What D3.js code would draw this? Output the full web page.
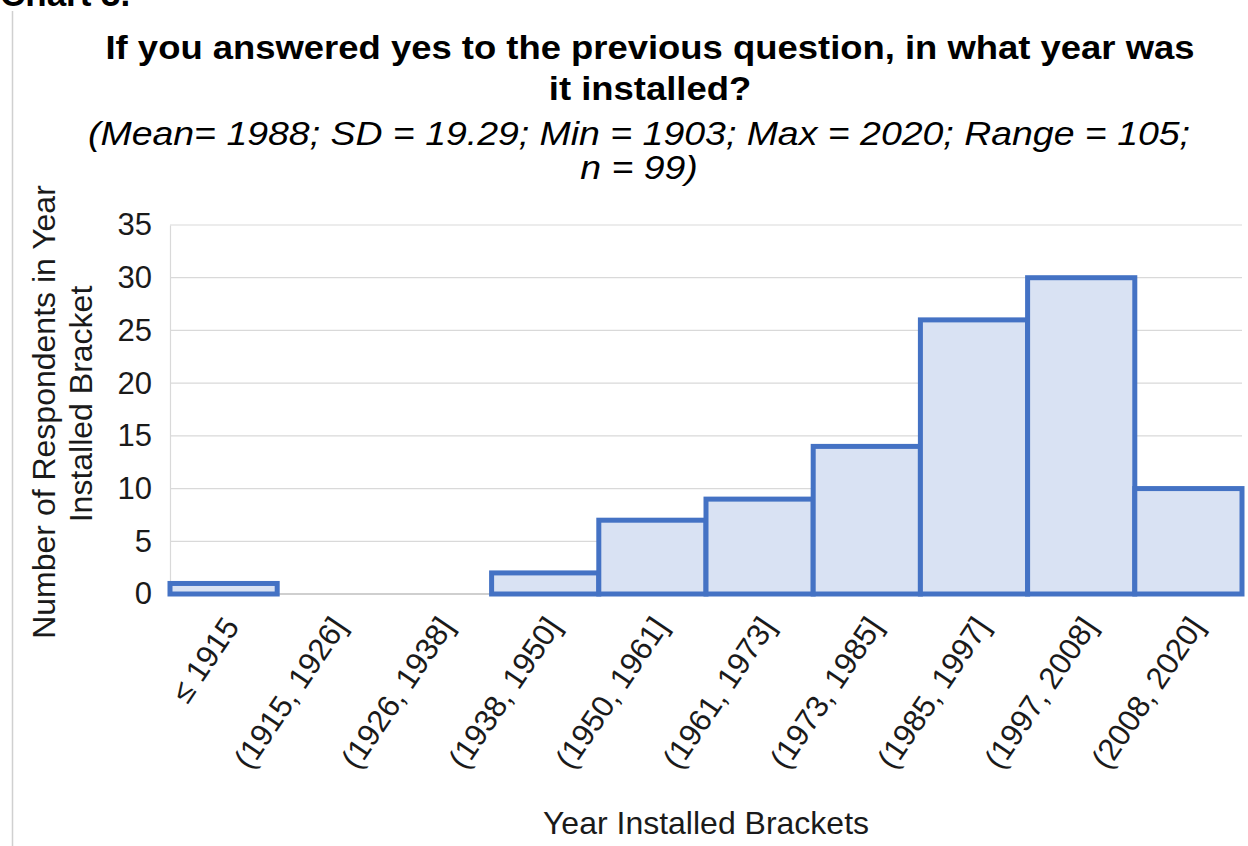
<!DOCTYPE html>
<html>
<head>
<meta charset="utf-8">
<script src="https://cdn.jsdelivr.net/npm/d3@7/dist/d3.min.js"></script>
<style>
  html, body { margin: 0; padding: 0; background: #fff; }
  svg { display: block; font-family: "Liberation Sans", Arial, sans-serif; }
</style>
</head>
<body>
<svg id="chart" width="1248" height="846"></svg>
<script>
// Year-installed brackets and respondent counts
const categories = ["≤ 1915", "(1915, 1926]", "(1926, 1938]", "(1938, 1950]", "(1950, 1961]",
                    "(1961, 1973]", "(1973, 1985]", "(1985, 1997]", "(1997, 2008]", "(2008, 2020]"];
const counts = [1, 0, 0, 2, 7, 9, 14, 26, 30, 10];
const yTicks = [0, 5, 10, 15, 20, 25, 30, 35];

const titleLines = ["If you answered yes to the previous question, in what year was", "it installed?"];
const subtitleLines = ["(Mean= 1988; SD = 19.29; Min = 1903; Max = 2020; Range = 105;", "n = 99)"];
const yTitleLines = ["Number of Respondents in Year", "Installed Bracket"];
const xTitle = "Year Installed Brackets";

const svg = d3.select("#chart");
const plot = { left: 170, right: 1242, top: 225, bottom: 594 };

const x = d3.scaleBand().domain(categories).range([plot.left, plot.right]).padding(0);
const y = d3.scaleLinear().domain([0, 35]).range([plot.bottom, plot.top]);

// Stretch a block of lines so the first one spans the given width
function fitLines(sel, width) {
  const nodes = sel.nodes();
  const k = width / nodes[0].getComputedTextLength();
  nodes.forEach(n => {
    n.setAttribute("textLength", n.getComputedTextLength() * k);
    n.setAttribute("lengthAdjust", "spacingAndGlyphs");
  });
}

// Heading above the card
svg.append("text").attr("x", 0).attr("y", 6)
  .attr("font-weight", "bold").attr("font-size", 35).attr("fill", "#000")
  .text("Chart 3.");

// Card border on the left
svg.append("line").attr("x1", 12.5).attr("x2", 12.5).attr("y1", 11).attr("y2", 846)
  .attr("stroke", "#d0d0d0").attr("stroke-width", 1.5);

// Title
const title = svg.append("g").selectAll("text").data(titleLines).join("text")
  .attr("x", 650).attr("y", (d, i) => 59 + i * 41)
  .attr("text-anchor", "middle").attr("font-weight", "bold").attr("font-size", 34)
  .attr("fill", "#000").text(d => d);
fitLines(title, 1089);

const subtitle = svg.append("g").selectAll("text").data(subtitleLines).join("text")
  .attr("x", 639).attr("y", (d, i) => 145 + i * 34)
  .attr("text-anchor", "middle").attr("font-style", "italic").attr("font-size", 33)
  .attr("fill", "#000").text(d => d);
fitLines(subtitle, 1102);

// Gridlines
svg.append("g").selectAll("line").data(yTicks.filter(t => t > 0)).join("line")
  .attr("x1", plot.left).attr("x2", plot.right)
  .attr("y1", d => y(d)).attr("y2", d => y(d))
  .attr("stroke", "#d9d9d9").attr("stroke-width", 1.2);

// Y axis
const yAxis = svg.append("g").attr("transform", `translate(${plot.left},0)`)
  .call(d3.axisLeft(y).tickValues(yTicks).tickSize(0).tickPadding(18));
yAxis.select(".domain").attr("stroke", "#d9d9d9").attr("stroke-width", 1.2);
yAxis.selectAll("text").attr("font-size", 31).attr("fill", "#1a1a1a")
  .attr("font-family", "Liberation Sans, Arial, sans-serif");

// Baseline
svg.append("line").attr("x1", plot.left).attr("x2", plot.right)
  .attr("y1", y(0)).attr("y2", y(0)).attr("stroke", "#bfbfbf").attr("stroke-width", 1.5);

// Histogram bars (adjacent, shared borders)
svg.append("g").selectAll("rect").data(counts.map((c, i) => ({ c, cat: categories[i] })).filter(d => d.c > 0))
  .join("rect")
  .attr("x", d => x(d.cat))
  .attr("width", x.bandwidth())
  .attr("y", d => y(d.c))
  .attr("height", d => y(0) - y(d.c))
  .attr("fill", "#d9e2f3")
  .attr("stroke", "#4472c4").attr("stroke-width", 5);

// X tick labels, rotated
svg.append("g").selectAll("text").data(categories).join("text")
  .attr("transform", d => `translate(${x(d) + x.bandwidth() / 2 + 10},${plot.bottom + 28}) rotate(-56)`)
  .attr("text-anchor", "end").attr("dominant-baseline", "middle")
  .attr("font-size", 31).attr("fill", "#1a1a1a").text(d => d);

// Axis titles
svg.append("text").attr("x", 706).attr("y", 834)
  .attr("text-anchor", "middle").attr("font-size", 32).attr("fill", "#1a1a1a").text(xTitle);

svg.append("g").selectAll("text").data(yTitleLines).join("text")
  .attr("transform", (d, i) => `translate(${55 + i * 37},${412 - i * 8}) rotate(-90)`)
  .attr("text-anchor", "middle").attr("font-size", 32).attr("fill", "#1a1a1a").text(d => d);
</script>
</body>
</html>
